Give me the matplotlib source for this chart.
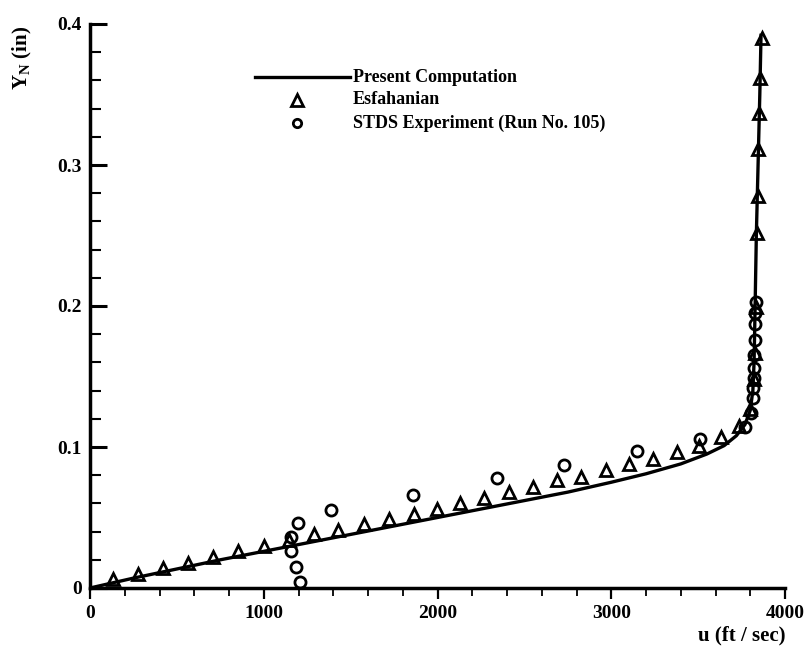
import numpy as np
import matplotlib
matplotlib.use('Agg')
import matplotlib.pyplot as plt
from matplotlib.ticker import MultipleLocator

plt.rcParams['font.family'] = ['Liberation Serif', 'DejaVu Serif']
plt.rcParams['mathtext.fontset'] = 'custom'
plt.rcParams['mathtext.bf'] = 'Liberation Serif:bold'

# Present Computation (solid line)
comp_u = [0, 250, 500, 750, 1000, 1250, 1500, 1750, 2000, 2250, 2500, 2750,
          3000, 3200, 3400, 3550, 3650, 3720, 3770, 3800, 3815, 3822, 3828,
          3835, 3845, 3855, 3862]
comp_y = [0, 0.007, 0.0135, 0.020, 0.026, 0.032, 0.038, 0.044, 0.050, 0.056,
          0.062, 0.068, 0.075, 0.081, 0.088, 0.095, 0.101, 0.108, 0.116,
          0.126, 0.140, 0.160, 0.200, 0.250, 0.300, 0.350, 0.392]

# Esfahanian (triangles)
esf_u = [134, 278, 422, 566, 710, 854, 1000, 1145, 1290, 1430, 1575, 1718,
         1862, 1995, 2130, 2270, 2410, 2550, 2690, 2825, 2970, 3105, 3240,
         3380, 3505, 3630, 3735, 3800, 3822, 3828, 3835, 3838, 3842, 3846,
         3852, 3858, 3866]
esf_y = [0.0062, 0.0098, 0.0142, 0.0176, 0.0218, 0.0259, 0.0300, 0.0340,
         0.0382, 0.0410, 0.0452, 0.0486, 0.0522, 0.0562, 0.0600, 0.0636,
         0.0682, 0.0714, 0.0764, 0.0790, 0.0837, 0.0880, 0.0914, 0.0964,
         0.1010, 0.1070, 0.1150, 0.1270, 0.148, 0.167, 0.199, 0.252, 0.278,
         0.311, 0.337, 0.362, 0.390]

# STDS Experiment, Run No. 105 (circles)
stds_u = [1209, 1186, 1155, 1155, 1197, 1385, 1857, 2341, 2728, 3146, 3511,
          3770, 3805, 3815, 3818, 3820, 3822, 3824, 3826, 3828, 3830, 3832]
stds_y = [0.004, 0.015, 0.026, 0.036, 0.046, 0.055, 0.066, 0.078, 0.087,
          0.097, 0.106, 0.114, 0.124, 0.135, 0.142, 0.149, 0.156, 0.165,
          0.176, 0.187, 0.195, 0.203]

x_ticks = [0, 1000, 2000, 3000, 4000]
x_labels = ['0', '1000', '2000', '3000', '4000']
y_ticks = [0, 0.1, 0.2, 0.3, 0.4]
y_labels = ['0', '0.1', '0.2', '0.3', '0.4']

fig = plt.figure(figsize=(8.09, 6.5), dpi=100)
ax = fig.add_axes([90/809, 1 - 588/650, 695/809, 564/650])

ax.plot(comp_u, comp_y, color='black', lw=2.4, zorder=2)
ax.plot(esf_u, esf_y, ls='none', marker='^', ms=9, mfc='none', mec='black',
        mew=2.0, zorder=3)
ax.plot(stds_u, stds_y, ls='none', marker='o', ms=8, mfc='none', mec='black',
        mew=2.0, zorder=3)

ax.set_xlim(0, 4000)
ax.set_ylim(0, 0.4)
ax.spines['top'].set_visible(False)
ax.spines['right'].set_visible(False)
ax.spines['left'].set_linewidth(2.5)
ax.spines['bottom'].set_linewidth(2.5)

ax.set_xticks(x_ticks)
ax.set_xticklabels(x_labels, fontweight='bold')
ax.set_yticks(y_ticks)
ax.set_yticklabels(y_labels, fontweight='bold')
ax.xaxis.set_minor_locator(MultipleLocator(200))
ax.yaxis.set_minor_locator(MultipleLocator(0.02))
ax.tick_params(axis='x', which='major', direction='out', length=8, width=1.6,
               labelsize=14, pad=4)
ax.tick_params(axis='x', which='minor', direction='out', length=6, width=1.3)
ax.tick_params(axis='y', which='major', direction='in', length=12, width=2.2,
               labelsize=14, pad=6)
ax.tick_params(axis='y', which='minor', direction='in', length=8, width=1.5)

# axis titles
fig.text(22/809, 1 - 58/650, r'Y$_{\mathbf{N}}$ (in)', rotation=90,
         ha='center', va='center', fontsize=15, fontweight='bold')
fig.text(785/809, 1 - 635/650, 'u (ft / sec)', ha='right', va='center',
         fontsize=15, fontweight='bold')

# legend drawn by hand
lx0, lx1, tx = 255/809, 350/809, 353/809
fig.add_artist(plt.Line2D([lx0, lx1], [1 - 77/650, 1 - 77/650], color='black',
                          lw=2.4, transform=fig.transFigure))
fig.add_artist(plt.Line2D([297/809], [1 - 100/650], ls='none', marker='^', ms=8,
                          mfc='none', mec='black', mew=2.0,
                          transform=fig.transFigure))
fig.add_artist(plt.Line2D([297/809], [1 - 123/650], ls='none', marker='o', ms=6,
                          mfc='none', mec='black', mew=2.0,
                          transform=fig.transFigure))
fig.text(tx, 1 - 77/650, 'Present Computation', va='center', fontsize=13,
         fontweight='bold')
fig.text(tx, 1 - 100/650, 'Esfahanian', va='center', fontsize=13,
         fontweight='bold')
fig.text(tx, 1 - 123/650, 'STDS Experiment (Run No. 105)', va='center',
         fontsize=13, fontweight='bold')

fig.savefig('out.png', dpi=100)
